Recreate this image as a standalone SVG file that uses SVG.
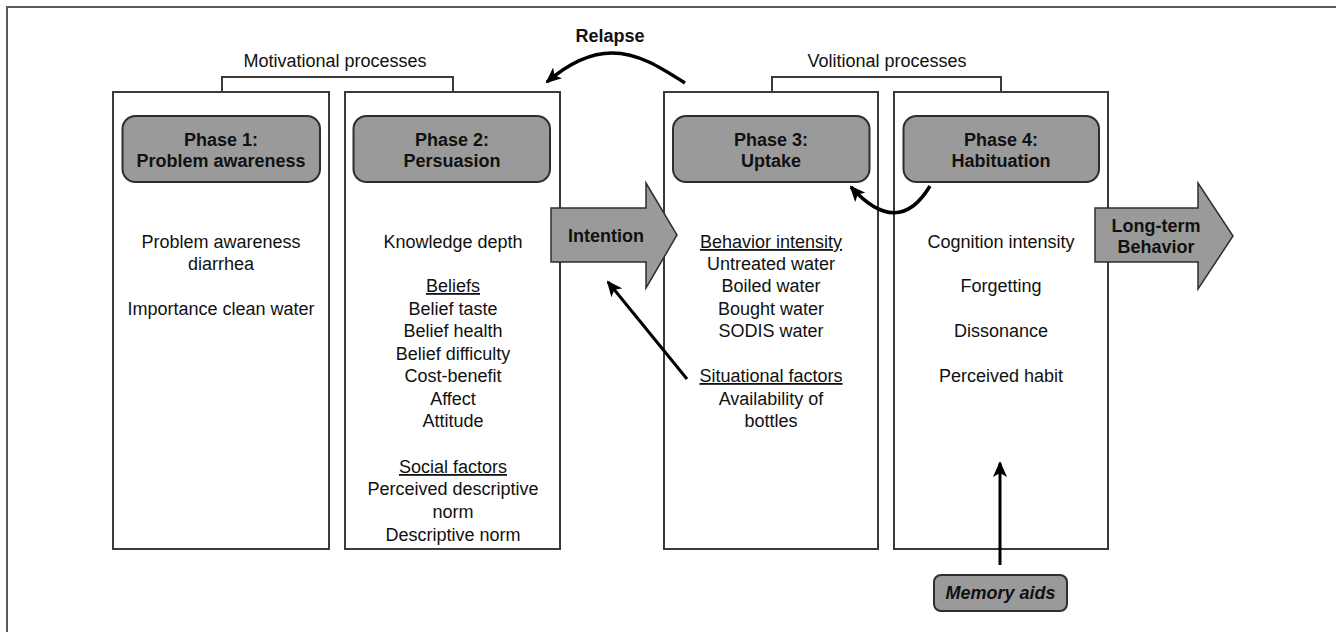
<svg xmlns="http://www.w3.org/2000/svg" width="1336" height="632" viewBox="0 0 1336 632">
<style>
.frame{fill:none;stroke:#5a5a5a;stroke-width:2}
.box{fill:#fff;stroke:#3a3a3a;stroke-width:2}
.hdr{fill:#9a9a9a;stroke:#2e2e2e;stroke-width:2}
.bigarrow{fill:#9a9a9a;stroke:#2e2e2e;stroke-width:1.5}
.t{font-family:"Liberation Sans",Arial,sans-serif;font-size:18px;fill:#111;text-anchor:middle}
.b{font-weight:bold}
.u{text-decoration:underline}
.conn{fill:none;stroke:#000;stroke-width:3.5}
.brk{fill:none;stroke:#3a3a3a;stroke-width:2}
</style>
<defs>
<marker id="ah" markerUnits="userSpaceOnUse" markerWidth="16" markerHeight="14" refX="14" refY="7" orient="auto">
<path d="M0,0 L16,7 L0,14 L4,7 Z" fill="#000"/>
</marker>
</defs>
<rect width="1336" height="632" fill="#fff"/>
<path class="frame" d="M7,632 L7,7 L1336,7"/>

<g id="brackets">
<path class="brk" d="M222,92 V77 H453 V92"/>
<text class="t" x="335" y="67">Motivational processes</text>
<path class="brk" d="M772,92 V77 H1001 V92"/>
<text class="t" x="887" y="67">Volitional processes</text>
</g>

<g id="phase1">
<rect class="box" x="113" y="92" width="216" height="457"/>
<rect class="hdr" x="122.5" y="116" width="197.5" height="66" rx="13"/>
<text class="t b" x="221" y="146">Phase 1:</text>
<text class="t b" x="221" y="167">Problem awareness</text>
<text class="t" x="221" y="248">Problem awareness</text>
<text class="t" x="221" y="270">diarrhea</text>
<text class="t" x="221" y="315">Importance clean water</text>
</g>

<g id="phase2">
<rect class="box" x="345" y="92" width="215" height="457"/>
<rect class="hdr" x="353.5" y="116" width="196.5" height="66" rx="13"/>
<text class="t b" x="452" y="146">Phase 2:</text>
<text class="t b" x="452" y="167">Persuasion</text>
<text class="t" x="453" y="248">Knowledge depth</text>
<text class="t u" x="453" y="292">Beliefs</text>
<text class="t" x="453" y="315">Belief taste</text>
<text class="t" x="453" y="337">Belief health</text>
<text class="t" x="453" y="360">Belief difficulty</text>
<text class="t" x="453" y="382">Cost-benefit</text>
<text class="t" x="453" y="405">Affect</text>
<text class="t" x="453" y="427">Attitude</text>
<text class="t u" x="453" y="473">Social factors</text>
<text class="t" x="453" y="495">Perceived descriptive</text>
<text class="t" x="453" y="518">norm</text>
<text class="t" x="453" y="541">Descriptive norm</text>
</g>

<g id="phase3">
<rect class="box" x="664" y="92" width="214" height="457"/>
<rect class="hdr" x="673" y="116" width="196.5" height="66" rx="13"/>
<text class="t b" x="771" y="146">Phase 3:</text>
<text class="t b" x="771" y="167">Uptake</text>
<text class="t u" x="771" y="248">Behavior intensity</text>
<text class="t" x="771" y="270">Untreated water</text>
<text class="t" x="771" y="292">Boiled water</text>
<text class="t" x="771" y="315">Bought water</text>
<text class="t" x="771" y="337">SODIS water</text>
<text class="t u" x="771" y="382">Situational factors</text>
<text class="t" x="771" y="405">Availability of</text>
<text class="t" x="771" y="427">bottles</text>
</g>

<g id="phase4">
<rect class="box" x="894" y="92" width="214" height="457"/>
<rect class="hdr" x="903.5" y="116" width="195.5" height="66" rx="13"/>
<text class="t b" x="1001" y="146">Phase 4:</text>
<text class="t b" x="1001" y="167">Habituation</text>
<text class="t" x="1001" y="248">Cognition intensity</text>
<text class="t" x="1001" y="292">Forgetting</text>
<text class="t" x="1001" y="337">Dissonance</text>
<text class="t" x="1001" y="382">Perceived habit</text>
</g>

<g id="intention">
<polygon class="bigarrow" points="551,208 646,208 646,183 677,235 646,288 646,262 551,262"/>
<text class="t b" x="606" y="242">Intention</text>
</g>

<g id="longterm">
<polygon class="bigarrow" points="1095,208 1198,208 1198,183 1233,236 1198,289 1198,262 1095,262"/>
<text class="t b" x="1156" y="232">Long-term</text>
<text class="t b" x="1156" y="253">Behavior</text>
</g>

<g id="memoryaids">
<rect class="hdr" x="934" y="575" width="133" height="36" rx="7"/>
<text class="t b" x="1000.5" y="599" font-style="italic">Memory aids</text>
</g>

<g id="connectors">
<path class="conn" d="M685,83 C660,67 638,53 612,53 C590,53 568,64 547,82" marker-end="url(#ah)"/>
<text class="t b" x="610" y="42">Relapse</text>
<path class="conn" d="M930,186 Q898,239 851,187" marker-end="url(#ah)"/>
<path class="conn" d="M687,379 L608,282" marker-end="url(#ah)" style="stroke-width:3"/>
<path class="conn" d="M1000,565 L1000,463" marker-end="url(#ah)" style="stroke-width:3"/>
</g>
</svg>
